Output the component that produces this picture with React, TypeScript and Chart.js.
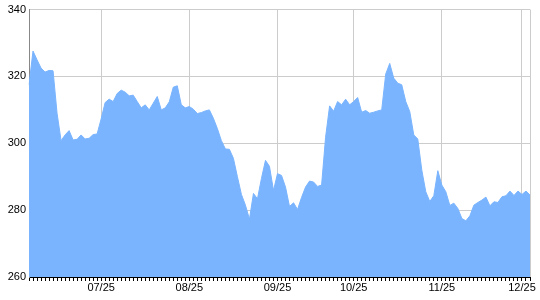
import { useEffect, useRef } from 'react';
import { Chart, registerables } from 'chart.js';

Chart.register(...registerables);

// Closing values, one per trading day
const values: number[] = [
  317.5, 327.6, 325, 322.5, 321.3, 321.8, 321.7, 309, 300.8, 302.5,
  303.8, 301, 301.2, 302.5, 301.3, 301.5, 302.6, 302.8, 307.3, 312.2,
  313.2, 312.5, 314.9, 315.9, 315.3, 314.2, 314.4, 312.5, 310.6, 311.5,
  310, 312, 314, 310, 310.6, 312.4, 316.8, 317.2, 311.5, 310.6,
  311, 310.2, 308.9, 309.2, 309.7, 310, 307.5, 304.4, 300.8, 298.3,
  298.2, 295.5, 290, 284.7, 281.5, 277.3, 285, 283.4, 289.5, 294.9,
  293.1, 285.9, 290.9, 290.4, 286.9, 281.1, 282.2, 280.2, 283.8, 286.9,
  288.7, 288.4, 287.1, 287.5, 301.8, 311.2, 309.6, 312.5, 311.5, 313.2,
  311.5, 312.5, 313.7, 309.3, 309.8, 309, 309.3, 309.7, 310, 320.7,
  323.9, 319.5, 318, 317.5, 312.5, 309.5, 302.5, 301.3, 292, 285.5,
  282.6, 284.3, 291.8, 287.5, 285.5, 281.4, 282.1, 280.5, 277.5, 276.8,
  278.3, 281.5, 282.3, 283, 283.9, 281.3, 282.5, 282.3, 284, 284.3,
  285.7, 284.4, 285.7, 284.7, 285.7, 284.5,
];

// Month tick positions (index into values) and their labels
const monthTickIndex: number[] = [18, 40, 62, 81, 103, 123];
const monthTickLabels: string[] = ['07/25', '08/25', '09/25', '10/25', '11/25', '12/25'];

const yMin = 260;
const yMax = 340;
const yStep = 20;

const FONT = 'Liberation Sans, Arial, sans-serif';

export default function App() {
  const ref = useRef<HTMLCanvasElement | null>(null);

  useEffect(() => {
    if (!ref.current) return;
    const labels = values.map((_, i) => {
      const k = monthTickIndex.indexOf(i);
      return k >= 0 ? monthTickLabels[k] : '';
    });
    const lastIdx = values.length - 1;
    const chart = new Chart(ref.current, {
      type: 'line',
      data: {
        labels,
        datasets: [
          {
            data: values,
            fill: 'start',
            backgroundColor: '#7ab4fe',
            borderColor: '#7ab4fe',
            borderWidth: 1,
            pointRadius: 0,
            tension: 0,
          },
        ],
      },
      options: {
        animation: false,
        responsive: false,
        layout: { padding: { top: 8, right: 10, left: 0, bottom: 0 } },
        plugins: { legend: { display: false }, tooltip: { enabled: false } },
        scales: {
          x: {
            type: 'category',
            offset: false,
            grid: {
              color: (ctx: any) =>
                monthTickIndex.includes(ctx.index) || ctx.index === lastIdx
                  ? '#cccccc'
                  : 'rgba(0,0,0,0)',
              tickColor: '#000000',
              tickLength: 4,
              drawTicks: true,
            },
            border: { color: '#000000' },
            ticks: {
              autoSkip: false,
              maxRotation: 0,
              minRotation: 0,
              padding: 0,
              color: '#000000',
              font: { family: FONT, size: 11 },
              callback: (_v: any, i: number) => labels[i],
            },
            afterFit: (s: any) => {
              s.height = 23;
            },
          },
          y: {
            min: yMin,
            max: yMax,
            ticks: {
              stepSize: yStep,
              color: '#000000',
              padding: 3,
              font: { family: FONT, size: 11 },
            },
            grid: { color: '#cccccc', drawTicks: false },
            border: { color: '#888888' },
            afterFit: (s: any) => {
              s.width = 29;
            },
          },
        },
      },
    });
    return () => chart.destroy();
  }, []);

  return (
    <div style={{ position: 'fixed', left: 0, top: 0, width: 540, height: 300, background: '#fff' }}>
      <canvas ref={ref} width={540} height={300} style={{ display: 'block' }} />
    </div>
  );
}
